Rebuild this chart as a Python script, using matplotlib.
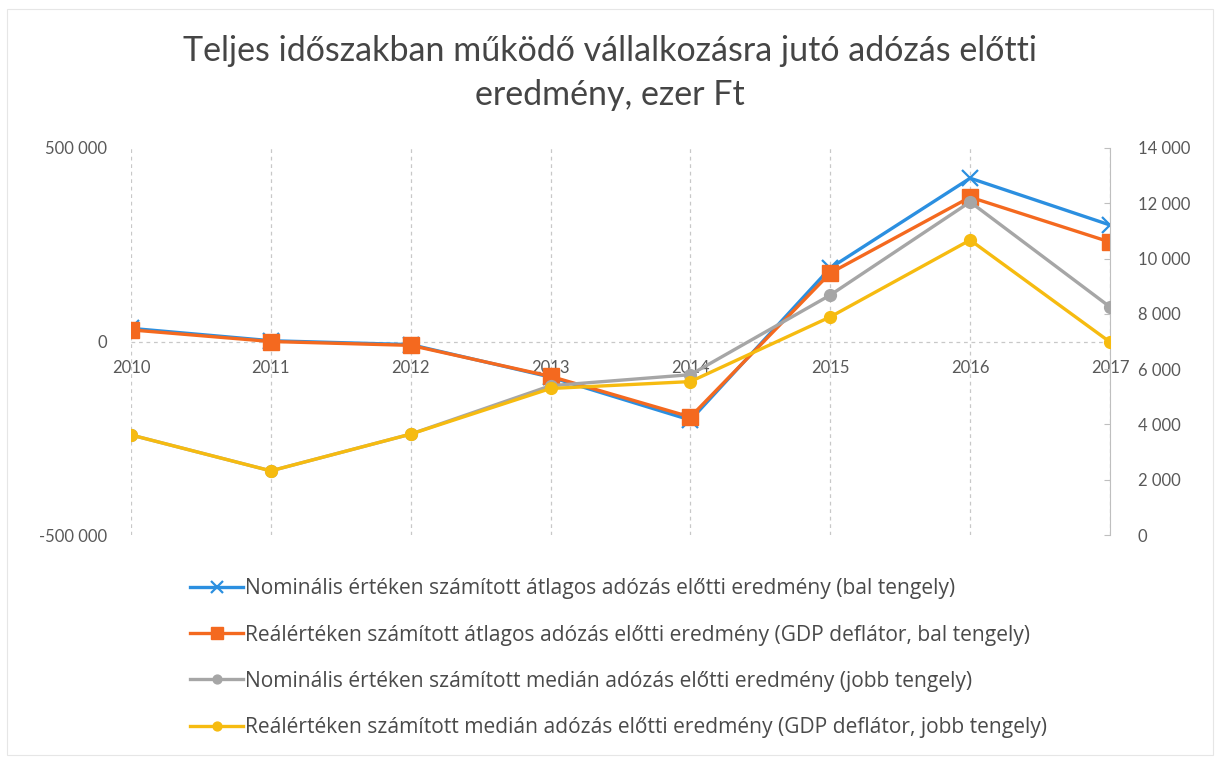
import matplotlib
matplotlib.use("Agg")
import matplotlib.pyplot as plt
from matplotlib.patches import Rectangle

plt.rcParams['font.family'] = ['Lato', 'DejaVu Sans']

# data
years = ["2010", "2011", "2012", "2013", "2014", "2015", "2016", "2017"]
nominal_mean = [34000, 2000, -8000, -92000, -203000, 190000, 422000, 301000]
real_mean = [30000, 0, -10000, -90000, -195000, 177000, 373000, 257000]
nominal_median = [3620, 2320, 3650, 5400, 5800, 8680, 12050, 8250]
real_median = [3620, 2320, 3650, 5300, 5550, 7890, 10670, 6980]

left_ticks = [-500000, 0, 500000]
right_ticks = [0, 2000, 4000, 6000, 8000, 10000, 12000, 14000]

title = "Teljes időszakban működő vállalkozásra jutó adózás előtti\neredmény, ezer Ft"
labels = [
    "Nominális értéken számított átlagos adózás előtti eredmény (bal tengely)",
    "Reálértéken számított átlagos adózás előtti eredmény (GDP deflátor, bal tengely)",
    "Nominális értéken számított medián adózás előtti eredmény (jobb tengely)",
    "Reálértéken számított medián adózás előtti eredmény (GDP deflátor, jobb tengely)",
]

blue = "#2b8fe0"
orange = "#f4691f"
gray = "#a6a6a6"
yellow = "#f6bb10"
txt = "#595959"


def fmt(v):
    return f"{v:,}".replace(",", " ")


fig = plt.figure(figsize=(12.15, 7.57), dpi=100)
ax = fig.add_axes([131 / 1215, 1 - 535 / 757, 979 / 1215, 387 / 757])
x = list(range(len(years)))

l1, = ax.plot(x, nominal_mean, color=blue, lw=2.4, marker="x", ms=12, mew=1.6, zorder=3)
l2, = ax.plot(x, real_mean, color=orange, lw=2.4, marker="s", ms=11.5, zorder=4)
ax.set_xlim(0, 7)
ax.set_ylim(-500000, 500000)
ax.set_yticks(left_ticks)
ax.set_yticklabels([fmt(v) for v in left_ticks])
ax.set_xticks(x)
ax.set_xticklabels(years)
ax.spines['bottom'].set_position(('data', 0))
for s in ['top', 'left', 'right', 'bottom']:
    ax.spines[s].set_visible(False)
ax.tick_params(axis='x', length=0, pad=13, labelsize=12, labelcolor=txt)
ax.tick_params(axis='y', length=0, pad=17, labelsize=12, labelcolor=txt)
ax.grid(axis='x', color="#c8c8c8", ls=(0, (3, 3)), lw=0.9)
ax.axhline(0, color="#c8c8c8", ls=(0, (3, 3)), lw=0.9, zorder=1)

ax2 = ax.twinx()
l3, = ax2.plot(x, nominal_median, color=gray, lw=2.4, marker="o", ms=8.5, zorder=3)
l4, = ax2.plot(x, real_median, color=yellow, lw=2.4, marker="o", ms=8.5, zorder=4)
ax2.set_ylim(0, 14000)
ax2.set_yticks(right_ticks)
ax2.set_yticklabels([fmt(v) for v in right_ticks])
for s in ['top', 'left', 'bottom']:
    ax2.spines[s].set_visible(False)
ax2.spines['right'].set_color("#bfbfbf")
ax2.tick_params(axis='y', direction='in', length=4, color="#bfbfbf", pad=20,
                labelsize=12, labelcolor=txt)

fig.text(0.502, 1 - 73 / 757, title, ha="center", va="center", fontsize=24.5,
         color="#454545", linespacing=1.45)

leg = fig.legend([l1, l2, l3, l4], labels, loc="upper left",
                 bbox_to_anchor=(182 / 1215, 1 - 570 / 757), frameon=False,
                 prop={'family': ['Open Sans', 'DejaVu Sans'], 'size': 15.1},
                 labelcolor="#4a4a4a", labelspacing=1.2, handlelength=2.5,
                 handletextpad=0.12, borderaxespad=0, markerscale=0.75)

fig.add_artist(Rectangle((7 / 1215, 2 / 757), 1206 / 1215, 746 / 757,
                         transform=fig.transFigure, fill=False,
                         edgecolor="#e6e6e6", lw=0.8))

fig.savefig("out.png", dpi=100)
